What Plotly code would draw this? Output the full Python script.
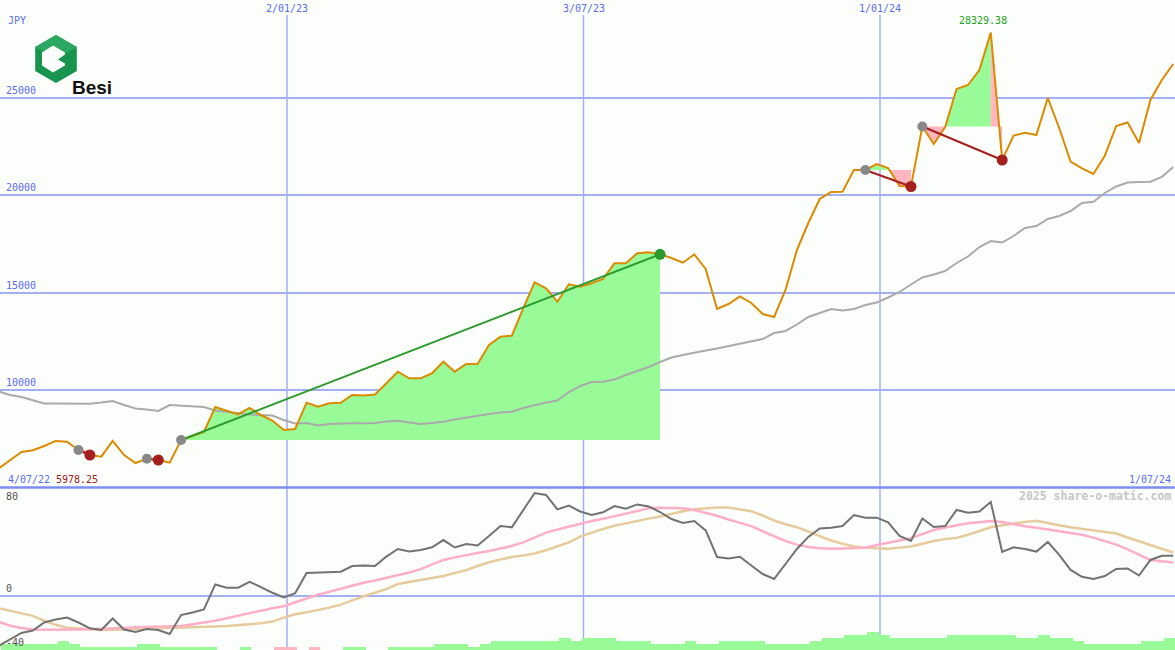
import pandas as pd
import plotly.graph_objects as go

# ---------------- data ----------------
dates = pd.date_range("2022-07-09", periods=104, freq="7D")

price = [5978.25, 6410, 6821, 6908, 7128, 7390, 7350, 6923, 6667, 6580,
         7385, 6660, 6256, 6477, 6410, 6272, 7436, 7641, 7846, 9128,
         8923, 8744, 9077, 8718, 8436, 7949, 7999, 9349, 9144, 9318,
         9340, 9744, 9718, 9769, 10344, 10939, 10600, 10600, 10857, 11451,
         10939, 11333, 11333, 12308, 12733, 12784, 14190, 15523, 15215, 14528,
         15420, 15297, 15472, 15692, 16497, 16497, 17010, 17062, 16959, 16769,
         16528, 16949, 16205, 14154, 14410, 14795, 14462, 13897, 13744, 15128,
         17179, 18564, 19795, 20154, 20169, 21282, 21282, 21590, 21385, 20462,
         20436, 23513, 22615, 23487, 25436, 25641, 26410, 28329.38, 21795, 23051,
         23195, 23077, 24974, 23436, 21708, 21369, 21077, 22015, 23538, 23718,
         22667, 24872, 25897, 26718]

ma30 = [9923, 9744, 9641, 9462, 9308, 9308, 9292, 9282, 9297, 9359,
        9436, 9231, 9051, 9000, 8923, 9231, 9205, 9164, 9128, 8949,
        8872, 8795, 8744, 8718, 8692, 8462, 8282, 8308, 8179, 8256,
        8292, 8292, 8292, 8308, 8385, 8426, 8333, 8256, 8308, 8369,
        8487, 8590, 8692, 8769, 8846, 8882, 9077, 9231, 9359, 9462,
        9897, 10205, 10410, 10426, 10538, 10769, 10974, 11179, 11436, 11667,
        11795, 11923, 12026, 12128, 12256, 12385, 12487, 12615, 12923, 13026,
        13359, 13744, 13949, 14154, 14077, 14154, 14359, 14487, 14744, 15026,
        15410, 15769, 15923, 16103, 16513, 16846, 17333, 17641, 17564, 17897,
        18308, 18410, 18769, 18923, 19179, 19590, 19656, 20103, 20436, 20641,
        20667, 20682, 20923, 21436]

osc = [-37.0, -32.1, -27.4, -25.6, -19.7, -17.5, -16.0, -19.7, -24.0, -25.2,
       -16.7, -24.9, -26.7, -24.5, -25.2, -28.2, -14.2, -12.3, -10.1, 8.4,
       6.0, 6.0, 10.4, 6.5, 2.3, -1.2, 1.9, 16.9, 17.1, 17.4,
       17.8, 22.0, 22.4, 22.0, 29.0, 34.6, 32.7, 33.9, 35.8, 41.2,
       35.7, 38.3, 37.2, 44.2, 51.6, 50.6, 63.4, 75.9, 74.5, 63.8,
       66.6, 62.3, 59.7, 61.7, 66.3, 64.3, 67.5, 66.0, 61.9, 56.7,
       53.8, 55.3, 48.3, 28.7, 27.6, 28.9, 22.4, 16.1, 12.4, 23.9,
       34.6, 43.5, 49.7, 50.3, 51.6, 59.7, 57.7, 57.7, 54.2, 44.2,
       40.5, 57.1, 50.8, 51.6, 63.4, 61.4, 62.3, 69.3, 32.4, 35.8,
       34.6, 32.7, 39.8, 30.2, 19.1, 14.1, 12.4, 14.6, 19.8, 20.2,
       15.0, 26.5, 29.6, 29.6]

osc_signal = [-19.0, -22.1, -23.8, -24.9, -25.1, -25.2, -25.1, -24.9, -24.7, -24.5,
              -24.1, -23.8, -23.2, -22.9, -22.6, -22.5, -22.3, -21.0, -19.8, -18.4,
              -16.5, -14.6, -12.7, -10.9, -9.2, -7.7, -5.1, -2.0, 0.8, 3.1,
              5.4, 7.6, 9.6, 11.3, 13.2, 15.0, 17.2, 19.7, 23.1, 26.5,
              28.4, 30.2, 31.7, 33.1, 34.9, 36.8, 39.5, 43.2, 46.7, 49.0,
              51.2, 53.6, 55.3, 56.9, 58.6, 60.7, 62.7, 64.6, 65.1, 65.1,
              64.6, 63.4, 61.5, 59.1, 56.4, 53.8, 51.5, 47.7, 43.8, 40.5,
              37.8, 36.1, 35.2, 34.7, 35.0, 35.3, 35.5, 37.5, 39.4, 40.9,
              42.6, 45.7, 48.6, 50.4, 52.0, 53.6, 54.4, 55.2, 54.6, 52.9,
              51.4, 50.2, 48.9, 47.7, 46.4, 45.1, 43.0, 40.4, 37.8, 34.3,
              30.2, 26.5, 25.6, 24.6]

osc_slow = [-9.2, -10.9, -12.9, -14.8, -18.4, -21.4, -23.6, -24.3, -24.8, -25.2,
            -25.0, -24.8, -24.6, -24.3, -24.2, -23.9, -23.7, -23.4, -23.1, -22.7,
            -22.3, -21.8, -21.0, -20.2, -19.0, -16.1, -13.6, -12.2, -10.5, -8.7,
            -6.5, -3.3, -0.3, 2.3, 5.0, 8.7, 10.2, 11.5, 12.7, 14.6,
            16.9, 19.0, 22.0, 24.8, 26.8, 28.7, 29.8, 31.3, 33.7, 36.4,
            39.5, 43.7, 46.8, 49.4, 51.7, 53.6, 55.4, 57.0, 58.6, 60.6,
            62.5, 63.9, 64.8, 65.2, 65.2, 63.8, 62.4, 59.3, 55.6, 52.9,
            50.7, 47.5, 44.1, 40.8, 38.5, 36.5, 35.5, 34.9, 34.7, 35.6,
            36.4, 38.4, 40.5, 41.9, 42.8, 45.1, 48.0, 50.6, 52.1, 53.5,
            54.5, 55.4, 54.0, 52.2, 50.6, 49.4, 48.1, 47.1, 46.0, 43.1,
            40.4, 37.5, 34.7, 32.0]

volume = [2, 2, 2, 2, 2, 3, 2, 1, 1, 1,
          1, 1, 2, 2, 1, 1, 1, 1, 1, 0,
          0, 1, 0, 0, 1, 1, 0, 1, 0, 0,
          1, 1, 0, 0, 1, 1, 1, 1, 2, 2,
          2, 1, 2, 3, 3, 3, 3, 3, 3, 4,
          3, 4, 4, 4, 3, 3, 3, 2, 2, 2,
          3, 2, 2, 3, 3, 3, 3, 2, 2, 2,
          2, 3, 4, 4, 5, 5, 6, 5, 4, 4,
          4, 4, 4, 5, 5, 5, 5, 5, 5, 4,
          4, 5, 4, 4, 3, 2, 2, 2, 2, 2,
          3, 3, 4, 4]
volume_down_weeks = [24, 25, 27]

# trend swings: (start index, end index)
swings = [(7, 8), (13, 14), (16, 58), (76, 80), (81, 88)]

price_ticks = [10000, 15000, 20000, 25000]
osc_ticks = [80, 0, -40]
grid_dates = ["2023-01-02", "2023-07-03", "2024-01-01"]
grid_labels = ["2/01/23", "3/07/23", "1/01/24"]
start_label = "4/07/22"
end_label = "1/07/24"
currency = "JPY"

# ---------------- styles ----------------
W, H = 1175, 650
BG = "#fcfefc"
ORANGE = "#dc8a00"
MA_COL = "#aaaaaa"
GREEN_FILL = "#98fb98"
PINK_FILL = "#ffb6c1"
UP_COL = "#2a9a2a"
DOWN_COL = "#a51f1f"
START_COL = "#888888"
GRID = "#a3b1f2"
SEP = "#7c8cf0"
LABEL = "#5a6cf0"
MONO = "DejaVu Sans Mono"
DAY_MS = 86400000

fig = go.Figure()

# swing fills
for s, e in swings:
    base = price[s]
    runs = []
    for j in range(s, e):
        col = GREEN_FILL if price[j + 1] >= base else PINK_FILL
        if runs and runs[-1][0] == col:
            runs[-1][2] = j + 1
        else:
            runs.append([col, j, j + 1])
    for col, a, b in runs:
        xs = [dates[a]] + list(dates[a:b + 1]) + [dates[b]]
        ys = [base] + price[a:b + 1] + [base]
        fig.add_trace(go.Scatter(x=xs, y=ys, mode="lines", fill="toself",
                                 fillcolor=col, line=dict(width=0),
                                 hoverinfo="skip", showlegend=False,
                                 xaxis="x", yaxis="y"))

# moving average and price
fig.add_trace(go.Scatter(x=dates, y=ma30, mode="lines",
                         line=dict(color=MA_COL, width=2),
                         showlegend=False, xaxis="x", yaxis="y"))
fig.add_trace(go.Scatter(x=dates, y=price, mode="lines",
                         line=dict(color=ORANGE, width=2),
                         showlegend=False, xaxis="x", yaxis="y"))

# swing lines and markers
for s, e in swings:
    up = price[e] > price[s]
    col = UP_COL if up else DOWN_COL
    fig.add_trace(go.Scatter(x=[dates[s], dates[e]], y=[price[s], price[e]],
                             mode="lines", line=dict(color=col, width=2),
                             showlegend=False, xaxis="x", yaxis="y"))
    fig.add_trace(go.Scatter(x=[dates[s]], y=[price[s]], mode="markers",
                             marker=dict(color=START_COL, size=10),
                             showlegend=False, xaxis="x", yaxis="y"))
    fig.add_trace(go.Scatter(x=[dates[e]], y=[price[e]], mode="markers",
                             marker=dict(color=col, size=11),
                             showlegend=False, xaxis="x", yaxis="y"))

# volume histogram (bottom)
vol_colors = [PINK_FILL if i in volume_down_weeks else GREEN_FILL
              for i in range(len(volume))]
fig.add_trace(go.Bar(x=dates, y=volume, marker=dict(color=vol_colors, line=dict(width=0)),
                     width=7 * DAY_MS, offset=1.2 * DAY_MS,
                     showlegend=False, xaxis="x", yaxis="y2"))

# oscillators
fig.add_trace(go.Scatter(x=dates, y=osc_slow, mode="lines",
                         line=dict(color="#e6cb9c", width=2.5),
                         showlegend=False, xaxis="x", yaxis="y3"))
fig.add_trace(go.Scatter(x=dates, y=osc_signal, mode="lines",
                         line=dict(color="#ffaec8", width=2.5),
                         showlegend=False, xaxis="x", yaxis="y3"))
fig.add_trace(go.Scatter(x=dates, y=osc, mode="lines",
                         line=dict(color="#727272", width=2),
                         showlegend=False, xaxis="x", yaxis="y3"))

# ---------------- shapes ----------------
shapes = []
for d in grid_dates:
    shapes.append(dict(type="line", xref="x", yref="paper", x0=d, x1=d,
                       y0=0, y1=1 - 15 / H, line=dict(color=GRID, width=1.5),
                       layer="below"))
# separator between panels
shapes.append(dict(type="line", xref="paper", yref="paper", x0=0, x1=1,
                   y0=0.25, y1=0.25, line=dict(color=SEP, width=2.5)))


def px(x, y):
    return f"{x / W:.5f},{1 - y / H:.5f}"


def poly(pts):
    return "M" + " L".join(px(x, y) for x, y in pts) + " Z"


hexagon = [(56, 35), (76.8, 47), (76.8, 71), (56, 83), (35.2, 71), (35.2, 47)]
hex_light = [(56, 35), (76.8, 47), (56, 59), (35.2, 47)]
inner = [(53, 45.5), (65, 52.5), (65, 54.5), (58, 59.5), (65, 63.5), (65, 65.5),
         (53, 72.5), (42, 65.5), (42, 52.5)]
shapes.append(dict(type="path", xref="paper", yref="paper", path=poly(hexagon),
                   fillcolor="#17944d", line=dict(width=0)))
shapes.append(dict(type="path", xref="paper", yref="paper", path=poly(hex_light),
                   fillcolor="#2aa862", line=dict(width=0)))
shapes.append(dict(type="path", xref="paper", yref="paper", path=poly(inner),
                   fillcolor=BG, line=dict(width=0)))

# ---------------- annotations ----------------
ann = []
mono = lambda c, s=10: dict(family=MONO, size=s, color=c)
ann.append(dict(text=currency, xref="paper", yref="paper", x=6 / W, y=1 - 21 / H,
                xanchor="left", yanchor="middle", showarrow=False, font=mono(LABEL)))
for v in price_ticks:
    ann.append(dict(text=str(v), xref="paper", yref="y", x=4 / W, y=v,
                    xanchor="left", yanchor="bottom", showarrow=False,
                    font=mono(LABEL)))
for d, t in zip(grid_dates, grid_labels):
    ann.append(dict(text=t, xref="x", yref="paper", x=d, y=1 - 9 / H,
                    xanchor="center", yanchor="middle", showarrow=False,
                    font=mono(LABEL)))
ann.append(dict(text=start_label, xref="paper", yref="paper", x=6 / W, y=1 - 479 / H,
                xanchor="left", yanchor="middle", showarrow=False, font=mono(LABEL)))
ann.append(dict(text=f"{min(price):.2f}", xref="paper", yref="paper", x=54 / W,
                y=1 - 479 / H, xanchor="left", yanchor="middle", showarrow=False,
                font=mono("#a01818")))
ann.append(dict(text=end_label, xref="paper", yref="paper", x=1173 / W, y=1 - 479 / H,
                xanchor="right", yanchor="middle", showarrow=False, font=mono(LABEL)))
ipk = price.index(max(price))
ann.append(dict(text=f"{max(price):.2f}", xref="x", yref="paper", x=dates[ipk],
                xshift=-8, y=1 - 21 / H, xanchor="center", yanchor="middle",
                showarrow=False, font=mono("#22a022")))
ann.append(dict(text="<b>2025 share-o-matic.com</b>", xref="paper", yref="paper",
                x=1173 / W, y=1 - 496 / H, xanchor="right", yanchor="middle",
                showarrow=False, font=mono("#c6c6c6", 11.5)))
for v in osc_ticks:
    ann.append(dict(text=str(v), xref="paper", yref="y3", x=4 / W, y=v,
                    xanchor="left", yanchor="top" if v == max(osc_ticks) else "bottom",
                    yshift=-1 if v == max(osc_ticks) else 0,
                    showarrow=False, font=mono("#555555")))
ann.append(dict(text="<b>Besi</b>", xref="paper", yref="paper", x=70 / W, y=1 - 87 / H,
                xanchor="left", yanchor="middle", showarrow=False,
                font=dict(family="Liberation Sans", size=19, color="#111111")))

fig.update_layout(
    width=W, height=H, margin=dict(l=0, r=0, t=0, b=0),
    paper_bgcolor=BG, plot_bgcolor=BG, showlegend=False,
    bargap=0,
    xaxis=dict(type="date", range=["2022-07-09 20:00", "2024-06-30 02:00"],
               domain=[0, 1], showgrid=False, showticklabels=False, zeroline=False,
               showline=False, ticks=""),
    yaxis=dict(domain=[0.25, 1], range=[5000, 30000], tickvals=price_ticks,
               showticklabels=False, showgrid=True, gridcolor=GRID, gridwidth=2,
               zeroline=False, showline=False, ticks="", anchor="x"),
    yaxis2=dict(domain=[0, 0.25], range=[0, 52], showgrid=False,
                showticklabels=False, zeroline=False, showline=False, ticks="",
                anchor="x"),
    yaxis3=dict(domain=[0, 0.25], range=[-40, 80], overlaying="y2", tickvals=[0],
                showticklabels=False, showgrid=True, gridcolor=GRID, gridwidth=2,
                zeroline=False, showline=False, ticks="", anchor="x"),
    shapes=shapes, annotations=ann,
)

fig.write_html("out.html", config={"displayModeBar": False},
               post_script="document.body.style.margin='0';")
